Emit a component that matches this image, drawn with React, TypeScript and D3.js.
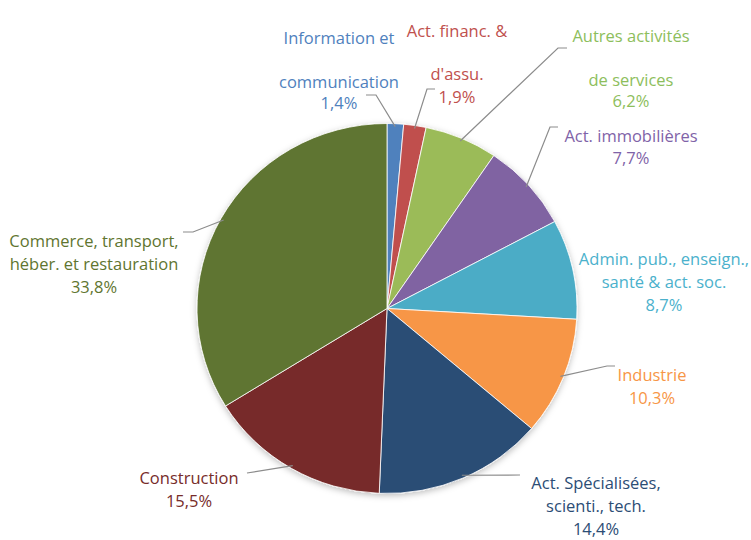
import React, { useEffect } from "react";
import * as d3 from "d3";

// sectors, clockwise from 12 o'clock
const sectors = [
  "Information et communication",
  "Act. financ. & d'assu.",
  "Autres activités de services",
  "Act. immobilières",
  "Admin. pub., enseign., santé & act. soc.",
  "Industrie",
  "Act. Spécialisées, scienti., tech.",
  "Construction",
  "Commerce, transport, héber. et restauration",
];
const shares = [1.4, 1.9, 6.2, 7.7, 8.7, 10.3, 14.4, 15.5, 33.8];
const labelLines = [
  ["Information et", "communication"],
  ["Act. financ. &", "d'assu."],
  ["Autres activités", "de services"],
  ["Act. immobilières"],
  ["Admin. pub., enseign.,", "santé & act. soc."],
  ["Industrie"],
  ["Act. Spécialisées,", "scienti., tech."],
  ["Construction"],
  ["Commerce, transport,", "héber. et restauration"],
];
const sliceColors = ["#4F81BD", "#C0504D", "#9BBB59", "#8064A2", "#4BACC6", "#F79646", "#2C4D75", "#772C2A", "#5F7530"];
const textColors = ["#4F81BD", "#C0504D", "#8DBE5C", "#7F63A8", "#4BB1CC", "#F79646", "#2C4D75", "#772C2A", "#5F7530"];

// manual label layout (Excel-style dragged labels): x centre, first baseline, line gaps, leader elbow
const layout = [
  { x: 339, y: 44, gaps: [44, 21], elbow: [366, 95], knee: [376, 95] },
  { x: 457, y: 37, gaps: [43, 23], elbow: [435, 89], knee: [427, 89] },
  { x: 631, y: 42, gaps: [44, 21], elbow: [567, 48], knee: [558, 48] },
  { x: 631, y: 142, gaps: [22], elbow: [558, 127], knee: [550, 127] },
  { x: 664, y: 265, gaps: [23, 23], elbow: null, knee: null },
  { x: 652, y: 381, gaps: [23], elbow: [615, 366], knee: [607, 366] },
  { x: 596, y: 489, gaps: [23, 23], elbow: [520, 475], knee: null },
  { x: 189, y: 484, gaps: [23], elbow: [247, 473], knee: null },
  { x: 94, y: 247, gaps: [23, 23], elbow: [183, 232], knee: [193, 232] },
];

const W = 751;
const H = 540;
const cx = 387;
const cy = 308.5;
const R = 185;
const sx = 190 / 185; // picture is slightly stretched horizontally

export default function App() {
  useEffect(() => {
    document.body.style.margin = "0";
  }, []);

  const pie = d3.pie<number>().sort(null).value((d) => d);
  const arcs = pie(shares);
  const arc = d3.arc<d3.PieArcDatum<number>>().innerRadius(0).outerRadius(R);
  const edge = d3.arc<d3.PieArcDatum<number>>().innerRadius(R - 3).outerRadius(R - 3);
  const fmt = (v: number) => v.toFixed(1).replace(".", ",") + "%";

  return (
    <svg width={W} height={H} style={{ display: "block", fontFamily: "'Open Sans', sans-serif" }}>
      <defs>
        <filter id="sh" x="-20%" y="-20%" width="140%" height="140%">
          <feDropShadow dx="0" dy="2" stdDeviation="3" floodColor="#000" floodOpacity="0.25" />
        </filter>
      </defs>
      <rect width={W} height={H} fill="#fff" />
      <g transform={`translate(${cx},${cy}) scale(${sx},1)`} filter="url(#sh)">
        {arcs.map((a, i) => (
          <path key={sectors[i]} d={arc(a) || ""} fill={sliceColors[i]} stroke="#fff" strokeWidth={0.8} />
        ))}
      </g>
      {arcs.map((a, i) => {
        const L = layout[i];
        if (!L.elbow) return null;
        const [px, py] = edge.centroid(a);
        const pts: [number, number][] = [L.elbow as [number, number]];
        if (L.knee) pts.push(L.knee as [number, number]);
        pts.push([cx + px * sx, cy + py]);
        return (
          <path key={"l" + i} d={d3.line()(pts) || ""} fill="none" stroke="#8c8c8c" strokeWidth={1.2} />
        );
      })}
      {arcs.map((a, i) => {
        const L = layout[i];
        const lines = [...labelLines[i], fmt(shares[i])];
        let y = L.y;
        return (
          <text key={"t" + i} textAnchor="middle" fontSize={16.5} fill={textColors[i]}>
            {lines.map((s, k) => {
              if (k > 0) y += L.gaps[k - 1];
              return (
                <tspan key={k} x={L.x} y={y}>
                  {s}
                </tspan>
              );
            })}
          </text>
        );
      })}
    </svg>
  );
}
